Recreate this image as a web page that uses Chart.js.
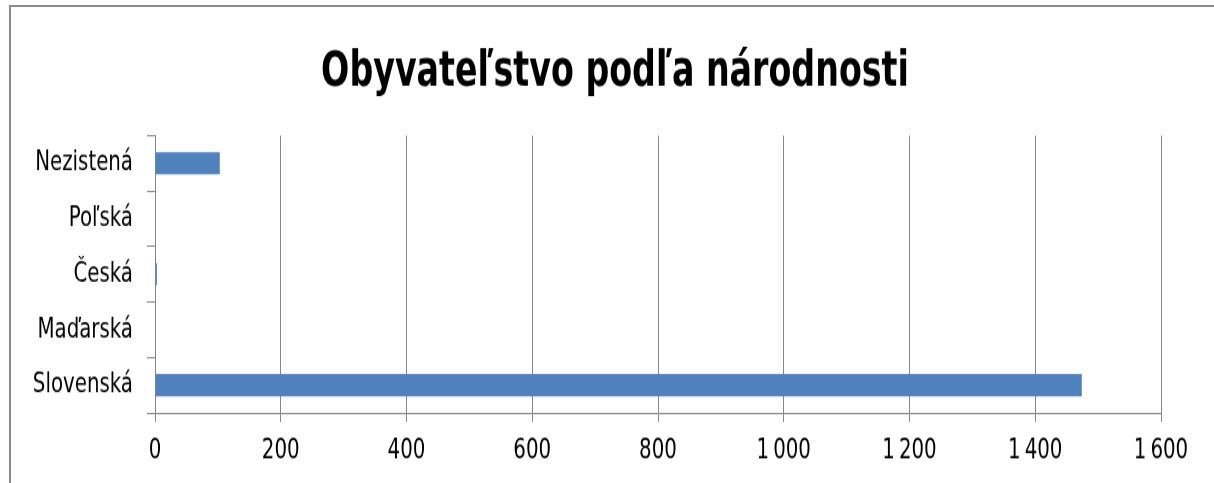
<!DOCTYPE html>
<html>
<head>
<meta charset="utf-8">
<script src="https://cdn.jsdelivr.net/npm/chart.js@4.4.1/dist/chart.umd.min.js"></script>
<style>
  html, body { margin: 0; padding: 0; background: #fff; }
  #wrap { position: relative; width: 1214px; height: 483px; overflow: hidden; }
  #frame { position: absolute; left: 9px; top: 5px; right: -10px; bottom: -10px;
           border-top: 2px solid #8c8c8c; border-left: 2px solid #8c8c8c; }
  /* the source picture is stretched vertically, so the chart is drawn short and scaled */
  canvas { position: absolute; left: 0; top: 0; transform: scaleY(1.2984); transform-origin: 0 0; }
</style>
</head>
<body>
<div id="wrap">
  <div id="frame"></div>
  <canvas id="myChart" width="1214" height="372"></canvas>
</div>
<script>
// categories listed bottom to top, like the source sheet
const narodnosti = ['Slovenská', 'Maďarská', 'Česká', 'Poľská', 'Nezistená'];
const pocty = [1474, 0, 3, 0, 103];
const xTicks = [0, 200, 400, 600, 800, 1000, 1200, 1400, 1600];

const pismo = "'DejaVu Sans Condensed', 'DejaVu Sans', sans-serif";

function medzera(v) {
    // 1200 -> "1 200"
    return String(v).replace(/\B(?=(\d{3})+(?!\d))/g, '\u2009');
}

const ctx = document.getElementById('myChart').getContext('2d');
const myChart = new Chart(ctx, {
    type: 'bar',
    data: {
        labels: narodnosti,
        datasets: [{
            label: 'Obyvateľstvo',
            data: pocty,
            backgroundColor: '#4f81bd',
            borderWidth: 0,
            barPercentage: 0.8,
            categoryPercentage: 0.5
        }]
    },
    options: {
        indexAxis: 'y',
        responsive: false,
        maintainAspectRatio: false,
        animation: false,
        layout: {
            padding: { left: 30, right: 14, top: 0, bottom: 0 }
        },
        scales: {
            x: {
                min: 0,
                max: 1600,
                afterBuildTicks: function (scale) {
                    scale.ticks = xTicks.map(v => ({ value: v }));
                },
                afterFit: function (scale) {
                    scale.height = 54;
                    scale.paddingRight = 53;
                },
                ticks: {
                    color: '#000',
                    font: { family: pismo, size: 22 },
                    padding: 9,
                    maxRotation: 0,
                    callback: function (v) { return medzera(v); }
                },
                grid: {
                    color: '#888',
                    lineWidth: 1,
                    tickLength: 7,
                    drawTicks: true
                },
                border: { color: '#888', width: 1 }
            },
            y: {
                reverse: true,
                afterFit: function (scale) { scale.width = 125; },
                ticks: {
                    color: '#000',
                    font: { family: pismo, size: 22 },
                    padding: 14
                },
                grid: {
                    offset: true,
                    drawOnChartArea: false,
                    color: '#888',
                    tickLength: 8
                },
                border: { color: '#888', width: 1 }
            }
        },
        plugins: {
            legend: { display: false },
            tooltip: { enabled: false },
            title: {
                display: true,
                text: 'Obyvateľstvo podľa národnosti',
                color: '#000',
                font: { family: pismo, size: 37, weight: 'bold', lineHeight: 1.2 },
                padding: { top: 34, bottom: 26 },
                align: 'center'
            }
        }
    }
});
</script>
</body>
</html>
